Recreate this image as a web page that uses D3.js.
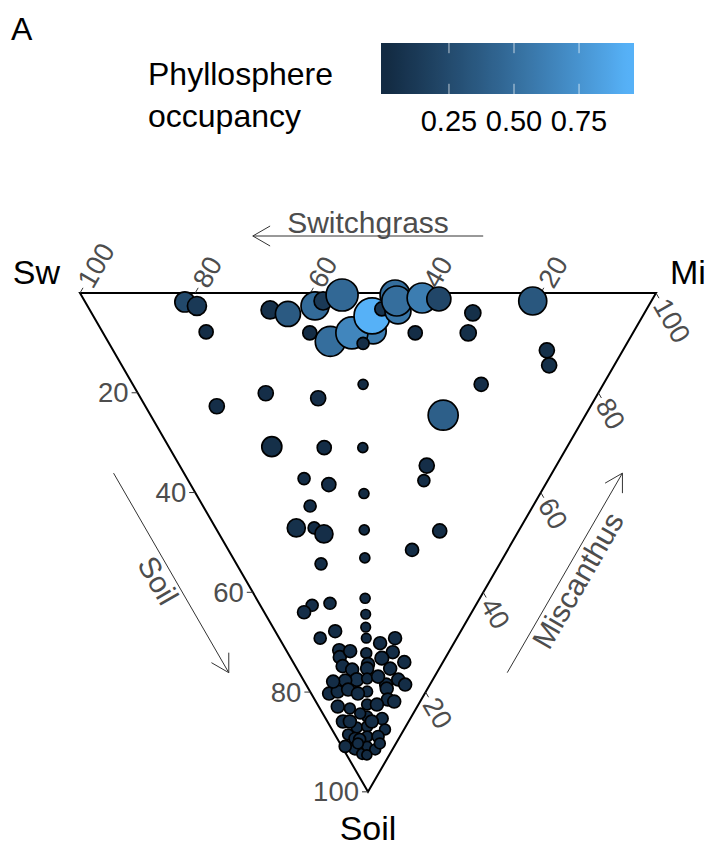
<!DOCTYPE html>
<html>
<head>
<meta charset="utf-8">
<script src="https://cdn.jsdelivr.net/npm/d3@7"></script>
<style>
  body { margin: 0; background: #fff; }
  svg { display: block; font-family: "Liberation Sans", Arial, Helvetica, sans-serif; }
</style>
</head>
<body>
<svg id="chart" width="712" height="848"></svg>
<script>
// Ternary composition (%) of each taxon across Switchgrass, Miscanthus and Soil
const switchgrass = [
  18.2,16.9,15.7,21.8,10.7,19.2,14.2,9.7,11.0,6.7,18.4,17.0,12.8,15.0,12.5,8.5,6.0,4.3,13.2,15.1,11.5,7.6,16.6,15.3,13.7,10.2,
  7.1,5.8,4.5,13.8,11.5,8.9,7.2,7.7,9.2,4.9,11.4,8.4,6.7,3.3,9.2,7.6,5.7,3.8,6.7,6.6,4.8,4.7,3.0,3.9,6.6,2.8,
  11.6,6.4,10.2,9.8,17.2,12.8,8.5,17.1,
  64.9,57.7,48.1,41.7,21.2,24.7,51.3,42.1,35.4,22.5,21.5,42.5,37.6,30.6,38.7,38.9,35.8,33.5,26.9,13.7,16.6,24.0,31.0,25.5,28.4,29.1,19.9,23.7,
  80.9,78.4,74.2,65.3,61.8,56.1,57.9,57.0,54.3,51.7,45.3,48.8,45.1,47.0,46.0,43.0,44.2,40.1,37.1,45.8,37.8,29.8,28.6,20.6,13.2,11.3
];
const miscanthus = [
  17.4,16.1,15.1,10.4,20.1,9.2,13.6,18.3,15.8,19.3,8.6,8.2,12.8,9.5,12.2,16.2,16.5,17.2,9.3,7.2,11.2,13.9,3.1,4.8,6.8,9.9,
  13.6,12.7,13.6,3.3,5.2,8.6,10.3,7.4,6.5,9.8,2.7,4.5,6.4,9.2,2.3,3.1,5.4,7.3,3.8,2.1,2.8,4.4,5.5,3.5,3.1,6.9,
  8.1,7.7,3.9,13.3,11.0,17.0,0.6,5.0,
  12.4,22.2,30.8,40.0,60.5,50.8,17.9,26.9,33.6,42.9,40.9,20.3,24.0,29.2,18.6,14.0,17.1,18.2,25.6,38.6,31.9,22.9,14.7,12.3,9.0,6.9,18.9,7.1,
  17.3,19.0,18.0,31.3,34.0,35.9,39.5,41.4,45.3,38.6,47.1,43.2,54.5,48.4,50.8,53.4,54.2,58.9,61.7,44.1,54.2,66.2,63.4,77.8,75.3,74.2
];
const soil = [
  64.4,67.0,69.2,67.8,69.2,71.6,72.2,72.0,73.2,74.0,73.0,74.8,74.4,75.5,75.3,75.3,77.5,78.5,77.5,77.7,77.3,78.5,80.3,79.9,79.5,79.9,
  79.3,81.5,81.9,82.9,83.3,82.5,82.5,84.9,84.3,85.3,85.9,87.1,86.9,87.5,88.5,89.3,88.9,88.9,89.5,91.3,92.4,90.9,91.5,92.6,90.3,90.3,
  80.3,85.9,85.9,76.9,71.8,70.2,90.9,77.9,
  22.7,20.1,21.1,18.3,18.3,24.5,30.8,31.0,31.0,34.6,37.6,37.2,38.4,40.2,42.7,47.1,47.1,48.3,47.5,47.7,51.5,53.1,54.3,62.2,62.6,64.0,61.2,69.2,
  1.8,2.6,7.8,3.4,4.2,8.0,2.6,1.6,0.4,9.7,7.6,8.0,0.4,4.6,3.2,3.6,1.6,1.0,1.2,10.1,8.0,4.0,8.0,1.6,11.5,14.5
];
// Phyllosphere occupancy (colour)
const occupancy = [
  0.013,0.013,0.013,0.03,0.03,0.03,0.013,0.03,0.03,0.03,0.03,0.03,0.03,0.03,0.03,0.03,0.03,0.03,0.07,0.03,0.013,0.03,0.03,0.03,0.03,0.013,
  0.03,0.03,0.03,0.03,0.03,0.013,0.03,0.013,0.03,0.03,0.03,0.03,0.013,0.03,0.03,0.03,0.013,0.03,0.03,0.03,0.03,0.013,0.03,0.013,0.03,0.03,
  0.03,0.03,0.03,0.04,0.03,0.03,0.03,0.03,
  0.04,0.04,0.04,0.013,0.04,0.40,0.05,0.03,0.013,0.04,0.03,0.03,0.04,0.013,0.03,0.06,0.03,0.04,0.013,0.03,0.03,0.013,0.03,0.03,0.04,0.04,0.013,0.03,
  0.24,0.12,0.03,0.06,0.36,0.03,0.48,0.12,0.46,0.50,0.60,0.66,0.50,0.937,0.08,0.56,0.50,0.60,0.22,0.03,0.03,0.05,0.05,0.34,0.05,0.05
];
// Relative abundance (point size)
const abundance = [
  0.003,0.003,0.003,0.03,0.03,0.03,0.01,0.03,0.04,0.03,0.03,0.03,0.03,0.03,0.03,0.03,0.03,0.03,0.04,0.03,0.01,0.03,0.03,0.03,0.03,0.01,
  0.03,0.03,0.03,0.03,0.01,0.01,0.03,0.01,0.01,0.02,0.03,0.01,0.01,0.01,0.01,0.02,0.01,0.02,0.02,0.03,0.01,0.005,0.01,0.005,0.01,0.01,
  0.03,0.03,0.03,0.03,0.03,0.03,0.02,0.03,
  0.0625,0.0625,0.0625,0.005,0.046,0.617,0.184,0.046,0.005,0.0625,0.02,0.02,0.046,0.005,0.02,0.128,0.02,0.128,0.005,0.046,0.032,0.005,0.02,0.02,0.02,0.032,0.005,0.02,
  0.184,0.154,0.046,0.128,0.369,0.046,0.51,0.128,0.735,0.617,0.413,0.735,0.617,1.0,0.046,0.413,0.617,0.617,0.327,0.02,0.046,0.082,0.082,0.51,0.0625,0.0625
];

const axisTicks = [20, 40, 60, 80, 100];
const legendTicks = [0.25, 0.50, 0.75];
const vertexNames = ["Sw", "Mi", "Soil"];
const axisNames = ["Switchgrass", "Miscanthus", "Soil"];
const legendTitle = ["Phyllosphere", "occupancy"];
const panelTag = "A";

(function draw() {
  const svg = d3.select("#chart");
  const grey = "#4d4d4d";

  // ---- ternary frame ----
  const triLeft = 80, triRight = 656, triTop = 293;
  const side = triRight - triLeft;
  const triH = side * Math.sqrt(3) / 2;
  const xs = d3.scaleLinear().domain([0, 100]).range([triLeft, triRight]);   // horizontal position of (mi + soil/2)
  const ys = d3.scaleLinear().domain([0, 100]).range([triTop, triTop + triH]); // soil share
  function project(w, m, s) {
    const t = w + m + s;
    const mm = m / t * 100, ss = s / t * 100;
    return [xs(mm + ss / 2), ys(ss)];
  }
  const vSw = project(100, 0, 0), vMi = project(0, 100, 0), vSo = project(0, 0, 100);

  svg.append("path")
    .attr("d", d3.line()([vSw, vMi, vSo]) + "Z")
    .attr("fill", "none").attr("stroke", "#000").attr("stroke-width", 2)
    .attr("stroke-linejoin", "miter");

  const tickLen = 6;
  const tickGroup = svg.append("g").attr("stroke", "#333").attr("stroke-width", 1);
  const labGroup = svg.append("g").attr("fill", grey).attr("font-size", 27.5);

  // Soil axis (left edge), horizontal ticks
  axisTicks.forEach(v => {
    const [x, y] = project(100 - v, 0, v);
    tickGroup.append("line").attr("x1", x).attr("y1", y).attr("x2", x - tickLen).attr("y2", y);
    labGroup.append("text").attr("x", x - 9).attr("y", y).attr("text-anchor", "end")
      .attr("dominant-baseline", "central").text(v);
  });
  // Switchgrass axis (top edge), ticks toward up-right
  const dirUp = [0.5, -Math.sqrt(3) / 2];
  axisTicks.forEach(v => {
    const [x, y] = project(v, 100 - v, 0);
    tickGroup.append("line").attr("x1", x).attr("y1", y)
      .attr("x2", x + dirUp[0] * tickLen).attr("y2", y + dirUp[1] * tickLen);
    const lx = x + dirUp[0] * (tickLen + 3), ly = y + dirUp[1] * (tickLen + 3);
    labGroup.append("text").attr("transform", `translate(${lx},${ly}) rotate(-60)`)
      .attr("text-anchor", "start").attr("dominant-baseline", "central").text(v);
  });
  // Miscanthus axis (right edge), ticks toward down-right
  const dirDown = [0.5, Math.sqrt(3) / 2];
  axisTicks.forEach(v => {
    const [x, y] = project(0, v, 100 - v);
    tickGroup.append("line").attr("x1", x).attr("y1", y)
      .attr("x2", x + dirDown[0] * tickLen).attr("y2", y + dirDown[1] * tickLen);
    const lx = x + dirDown[0] * (tickLen + 3), ly = y + dirDown[1] * (tickLen + 3);
    labGroup.append("text").attr("transform", `translate(${lx},${ly}) rotate(60)`)
      .attr("text-anchor", "start").attr("dominant-baseline", "central").text(v);
  });

  // ---- axis title arrows ----
  function arrow(p0, p1) {
    const g = svg.append("g").attr("stroke", "#333").attr("stroke-width", 1).attr("fill", "none");
    g.append("line").attr("x1", p0[0]).attr("y1", p0[1]).attr("x2", p1[0]).attr("y2", p1[1]);
    const ang = Math.atan2(p0[1] - p1[1], p0[0] - p1[0]);
    const hl = 20, ha = Math.PI / 6;
    [ang - ha, ang + ha].forEach(a => {
      g.append("line").attr("x1", p1[0]).attr("y1", p1[1])
        .attr("x2", p1[0] + hl * Math.cos(a)).attr("y2", p1[1] + hl * Math.sin(a));
    });
  }
  const half = side * 0.2;
  const titleSize = 30;
  // top: Switchgrass, pointing toward Sw
  {
    const cx = (vSw[0] + vMi[0]) / 2, cy = triTop - 57;
    arrow([cx + half, cy], [cx - half, cy]);
    svg.append("text").attr("x", cx).attr("y", cy - 3).attr("text-anchor", "middle")
      .attr("fill", grey).attr("font-size", titleSize).text(axisNames[0]);
  }
  // left: Soil, pointing toward the Soil vertex
  {
    const n = [-Math.sqrt(3) / 2, 0.5], d = dirDown;
    const mx = (vSw[0] + vSo[0]) / 2 + n[0] * 61, my = (vSw[1] + vSo[1]) / 2 + n[1] * 61;
    arrow([mx - d[0] * half, my - d[1] * half], [mx + d[0] * half, my + d[1] * half]);
    const tx = mx + n[0] * 15, ty = my + n[1] * 15;
    svg.append("text").attr("transform", `translate(${tx},${ty}) rotate(60)`)
      .attr("text-anchor", "middle").attr("dominant-baseline", "central")
      .attr("fill", grey).attr("font-size", titleSize).text(axisNames[2]);
  }
  // right: Miscanthus, pointing toward Mi
  {
    const n = [Math.sqrt(3) / 2, 0.5], d = dirUp;
    const mx = (vMi[0] + vSo[0]) / 2 + n[0] * 61, my = (vMi[1] + vSo[1]) / 2 + n[1] * 61;
    arrow([mx - d[0] * half, my - d[1] * half], [mx + d[0] * half, my + d[1] * half]);
    const tx = mx + n[0] * 15, ty = my + n[1] * 15;
    svg.append("text").attr("transform", `translate(${tx},${ty}) rotate(-60)`)
      .attr("text-anchor", "middle").attr("dominant-baseline", "central")
      .attr("fill", grey).attr("font-size", titleSize).text(axisNames[1]);
  }

  // ---- vertex labels ----
  const vSize = 34;
  svg.append("text").attr("x", vSw[0] - 20).attr("y", vSw[1] - 9).attr("text-anchor", "end")
    .attr("font-size", vSize).text(vertexNames[0]);
  svg.append("text").attr("x", vMi[0] + 14).attr("y", vMi[1] - 9).attr("text-anchor", "start")
    .attr("font-size", vSize).text(vertexNames[1]);
  svg.append("text").attr("x", vSo[0]).attr("y", 840).attr("text-anchor", "middle")
    .attr("font-size", vSize).text(vertexNames[2]);

  // ---- points ----
  const occExtent = d3.extent(occupancy);
  const color = d3.scaleLinear().domain(occExtent).range(["#132B43", "#56B1F7"]).interpolate(d3.interpolateLab);
  const radius = d3.scaleSqrt().domain([0, 1]).range([4, 18]);

  const pts = switchgrass.map((w, i) => ({ w, m: miscanthus[i], s: soil[i], occ: occupancy[i], ab: abundance[i] }));
  svg.append("g").selectAll("circle").data(pts).join("circle")
    .attr("cx", d => project(d.w, d.m, d.s)[0])
    .attr("cy", d => project(d.w, d.m, d.s)[1])
    .attr("r", d => radius(d.ab))
    .attr("fill", d => color(d.occ))
    .attr("stroke", "#000").attr("stroke-width", 1.7);

  // ---- colour bar legend ----
  const barX0 = 381, barX1 = 634, barY0 = 43, barY1 = 94;
  const barLen = barX1 - barX0, nbin = 20;
  const barScale = d3.scaleLinear().domain(occExtent)
    .range([barX0 + barLen * 0.5 / nbin, barX1 - barLen * 0.5 / nbin]);
  const grad = svg.append("defs").append("linearGradient").attr("id", "occGrad")
    .attr("x1", "0%").attr("x2", "100%").attr("y1", "0%").attr("y2", "0%");
  d3.range(0, 51).forEach(i => {
    const x = barX0 + barLen * i / 50;
    const v = Math.max(occExtent[0], Math.min(occExtent[1], barScale.invert(x)));
    grad.append("stop").attr("offset", (i * 2) + "%").attr("stop-color", color(v));
  });
  svg.append("rect").attr("x", barX0).attr("y", barY0).attr("width", barLen).attr("height", barY1 - barY0)
    .attr("fill", "url(#occGrad)");
  const tickH = (barY1 - barY0) / 5;
  legendTicks.forEach(v => {
    const x = barScale(v);
    svg.append("line").attr("x1", x).attr("x2", x).attr("y1", barY0).attr("y2", barY0 + tickH)
      .attr("stroke", "#fff").attr("stroke-opacity", 0.7).attr("stroke-width", 1);
    svg.append("line").attr("x1", x).attr("x2", x).attr("y1", barY1 - tickH).attr("y2", barY1)
      .attr("stroke", "#fff").attr("stroke-opacity", 0.7).attr("stroke-width", 1);
    svg.append("text").attr("x", x).attr("y", 131).attr("text-anchor", "middle")
      .attr("font-size", 29).attr("fill", "#000").text(d3.format(".2f")(v));
  });
  svg.append("text").attr("x", 148).attr("y", 85).attr("font-size", 32).text(legendTitle[0]);
  svg.append("text").attr("x", 148).attr("y", 127).attr("font-size", 32).text(legendTitle[1]);

  // panel tag
  svg.append("text").attr("x", 11).attr("y", 40).attr("font-size", 32).text(panelTag);
})();
</script>
</body>
</html>
